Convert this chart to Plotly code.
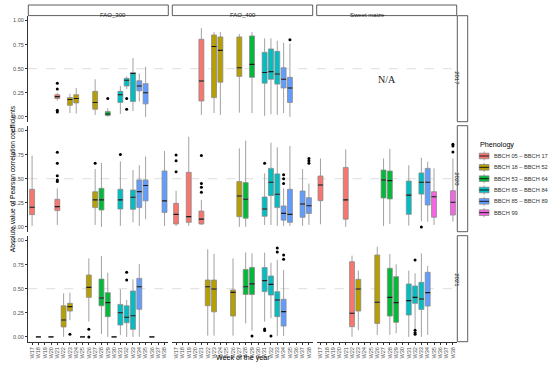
import plotly.graph_objects as go

# ---------------- data ----------------
WEEKS = [f"W{i}" for i in range(17, 39)]
PHASES = ["BBCH 05 – BBCH 17", "BBCH 18 – BBCH 52", "BBCH 53 – BBCH 64",
          "BBCH 65 – BBCH 84", "BBCH 85 – BBCH 89", "BBCH 99"]
COLORS = ["#F8766D", "#B79F00", "#00BA38", "#00BFC4", "#619CFF", "#F564E3"]
VARIETIES = ["FAO_300", "FAO_400", "Sweet maize"]
YEARS = ["2017", "2020", "2021"]

# FAO_300 / 2017
fao300_2017_weeks = ["W21", "W23", "W24", "W27", "W29", "W31", "W32", "W33", "W34", "W35"]
fao300_2017_phase = [0, 1, 1, 1, 2, 3, 3, 3, 4, 4]
fao300_2017_lo = [0.17, 0.04, 0.035, 0.02, 0.0, 0.03, 0.29, 0.06, 0.16, 0.0]
fao300_2017_q1 = [0.19, 0.12, 0.145, 0.08, 0.015, 0.15, 0.32, 0.16, 0.27, 0.135]
fao300_2017_med = [0.21, 0.18, 0.19, 0.15, 0.03, 0.23, 0.38, 0.45, 0.32, 0.25]
fao300_2017_q3 = [0.23, 0.20, 0.23, 0.265, 0.055, 0.265, 0.40, 0.46, 0.375, 0.345]
fao300_2017_hi = [0.25, 0.24, 0.30, 0.39, 0.09, 0.32, 0.42, 0.61, 0.45, 0.52]
fao300_2017_out = [("W21", 0.35), ("W21", 0.29), ("W21", 0.07), ("W21", 0.05),
                   ("W29", 0.19), ("W32", 0.19), ("W32", 0.08)]

# FAO_400 / 2017
fao400_2017_weeks = ["W21", "W23", "W24", "W27", "W29", "W31", "W32", "W33", "W34", "W35"]
fao400_2017_phase = [0, 1, 1, 1, 2, 3, 3, 3, 4, 4]
fao400_2017_lo = [0.02, 0.04, 0.02, 0.044, 0.04, 0.01, 0.027, 0.02, 0.04, 0.0]
fao400_2017_q1 = [0.165, 0.20, 0.36, 0.42, 0.41, 0.35, 0.39, 0.34, 0.30, 0.15]
fao400_2017_med = [0.373, 0.73, 0.69, 0.51, 0.545, 0.46, 0.47, 0.445, 0.39, 0.30]
fao400_2017_q3 = [0.805, 0.85, 0.83, 0.83, 0.84, 0.67, 0.705, 0.68, 0.51, 0.41]
fao400_2017_hi = [0.92, 0.88, 0.88, 0.86, 0.88, 0.815, 0.815, 0.79, 0.77, 0.76]
fao400_2017_out = [("W35", 0.80)]

# FAO_300 / 2020
fao300_2020_weeks = ["W17", "W21", "W27", "W28", "W31", "W33", "W34", "W35", "W38"]
fao300_2020_phase = [0, 0, 1, 2, 3, 3, 4, 4, 4]
fao300_2020_lo = [0.01, 0.02, 0.02, 0.0, 0.01, 0.047, 0.01, 0.08, 0.01]
fao300_2020_q1 = [0.127, 0.169, 0.20, 0.175, 0.185, 0.182, 0.20, 0.27, 0.15]
fao300_2020_med = [0.203, 0.21, 0.28, 0.28, 0.28, 0.307, 0.366, 0.43, 0.27]
fao300_2020_q3 = [0.39, 0.286, 0.365, 0.40, 0.39, 0.383, 0.487, 0.487, 0.58]
fao300_2020_hi = [0.74, 0.40, 0.60, 0.665, 0.68, 0.59, 0.64, 0.73, 0.787]
fao300_2020_out = [("W21", 0.774), ("W21", 0.66), ("W21", 0.53), ("W21", 0.487),
                   ("W21", 0.47), ("W27", 0.66), ("W31", 0.75)]

# FAO_400 / 2020
fao400_2020_weeks = ["W17", "W19", "W21", "W27", "W28", "W31", "W32", "W33", "W34", "W35", "W37", "W38"]
fao400_2020_phase = [0, 0, 0, 1, 2, 3, 3, 3, 4, 4, 4, 4]
fao400_2020_lo = [0.01, 0.01, 0.02, 0.0, 0.0, 0.02, 0.02, 0.01, 0.01, 0.01, 0.01, 0.02]
fao400_2020_q1 = [0.03, 0.047, 0.03, 0.106, 0.09, 0.11, 0.324, 0.2, 0.07, 0.047, 0.1, 0.14]
fao400_2020_med = [0.13, 0.106, 0.08, 0.32, 0.286, 0.186, 0.463, 0.338, 0.14, 0.13, 0.238, 0.22]
fao400_2020_q3 = [0.244, 0.566, 0.164, 0.47, 0.46, 0.31, 0.607, 0.55, 0.217, 0.39, 0.372, 0.303]
fao400_2020_hi = [0.375, 0.936, 0.28, 0.815, 0.895, 0.556, 0.874, 0.826, 0.40, 0.84, 0.60, 0.45]
fao400_2020_out = [("W17", 0.746), ("W17", 0.687), ("W17", 0.573),
                   ("W21", 0.74), ("W21", 0.45), ("W21", 0.41), ("W21", 0.36),
                   ("W31", 0.66), ("W34", 0.54), ("W34", 0.50), ("W34", 0.45),
                   ("W38", 0.71), ("W38", 0.687), ("W38", 0.66)]

# Sweet maize / 2020
sweet_2020_weeks = ["W17", "W21", "W27", "W28", "W31", "W33", "W34", "W35", "W38"]
sweet_2020_phase = [0, 0, 2, 2, 3, 3, 4, 5, 5]
sweet_2020_lo = [0.027, 0.0, 0.01, 0.03, 0.013, 0.06, 0.055, 0.02, 0.055]
sweet_2020_q1 = [0.272, 0.08, 0.30, 0.29, 0.13, 0.34, 0.227, 0.1, 0.123]
sweet_2020_med = [0.435, 0.28, 0.487, 0.48, 0.33, 0.463, 0.463, 0.313, 0.255]
sweet_2020_q3 = [0.528, 0.617, 0.59, 0.58, 0.476, 0.56, 0.607, 0.365, 0.376]
sweet_2020_hi = [0.71, 0.805, 0.71, 0.81, 0.64, 0.718, 0.676, 0.607, 0.71]
sweet_2020_out = [("W33", 0.0), ("W38", 0.857), ("W38", 0.84), ("W38", 0.777)]

# FAO_300 / 2021
fao300_2021_weeks = ["W18", "W20", "W22", "W23", "W25", "W26", "W28", "W29", "W30", "W31", "W32", "W33", "W34", "W36"]
fao300_2021_phase = [0, 0, 1, 1, 1, 1, 2, 2, 3, 3, 3, 3, 4, 4]
fao300_2021_lo = [0, 0, 0.0, 0.175, 0, 0.158, 0.03, 0.0, 0, 0.02, 0.0, 0.0, 0.0, 0]
fao300_2021_q1 = [0, 0, 0.103, 0.268, 0, 0.41, 0.323, 0.21, 0, 0.123, 0.147, 0.078, 0.286, 0]
fao300_2021_med = [0, 0, 0.175, 0.314, 0, 0.514, 0.404, 0.355, 0, 0.251, 0.203, 0.22, 0.52, 0]
fao300_2021_q3 = [0, 0, 0.323, 0.348, 0, 0.642, 0.60, 0.459, 0, 0.337, 0.323, 0.476, 0.607, 0]
fao300_2021_hi = [0, 0, 0.452, 0.459, 0, 0.815, 0.84, 0.666, 0, 0.494, 0.383, 0.597, 0.756, 0]
fao300_2021_out = [("W23", 0.027), ("W26", 0.078), ("W26", 0.0), ("W32", 0.67), ("W32", 0.59)]

# FAO_400 / 2021
fao400_2021_weeks = ["W22", "W23", "W26", "W28", "W29", "W31", "W32", "W33", "W34"]
fao400_2021_phase = [1, 1, 1, 2, 2, 3, 3, 3, 4]
fao400_2021_lo = [0.013, 0.013, 0.013, 0.14, 0.065, 0.158, 0.193, 0.01, 0.01]
fao400_2021_q1 = [0.323, 0.26, 0.217, 0.44, 0.44, 0.47, 0.434, 0.21, 0.112]
fao400_2021_med = [0.52, 0.497, 0.462, 0.52, 0.55, 0.584, 0.545, 0.383, 0.262]
fao400_2021_q3 = [0.59, 0.59, 0.487, 0.70, 0.72, 0.72, 0.632, 0.469, 0.39]
fao400_2021_hi = [0.908, 0.86, 0.815, 0.877, 0.867, 0.874, 0.77, 0.80, 0.694]
fao400_2021_out = [("W29", 0.01), ("W31", 0.082), ("W31", 0.065), ("W32", 0.01),
                   ("W33", 0.922), ("W33", 0.88), ("W34", 0.85), ("W34", 0.805)]

# Sweet maize / 2021
sweet_2021_weeks = ["W22", "W23", "W26", "W28", "W29", "W31", "W32", "W33", "W34"]
sweet_2021_phase = [0, 1, 1, 2, 2, 3, 3, 3, 4]
sweet_2021_lo = [0.0, 0.07, 0.02, 0.02, 0.037, 0.0, 0.078, 0.0, 0.02]
sweet_2021_q1 = [0.106, 0.268, 0.14, 0.216, 0.151, 0.227, 0.348, 0.285, 0.32]
sweet_2021_med = [0.245, 0.497, 0.359, 0.41, 0.355, 0.376, 0.41, 0.393, 0.459]
sweet_2021_q3 = [0.78, 0.597, 0.85, 0.712, 0.625, 0.549, 0.528, 0.566, 0.67]
sweet_2021_hi = [0.843, 0.687, 0.936, 0.86, 0.753, 0.687, 0.66, 0.867, 0.736]
sweet_2021_out = [("W32", 0.798), ("W32", 0.07), ("W32", 0.044), ("W32", 0.027)]

PANELS = {
    (0, 0): (fao300_2017_weeks, fao300_2017_phase, fao300_2017_lo, fao300_2017_q1, fao300_2017_med, fao300_2017_q3, fao300_2017_hi, fao300_2017_out),
    (0, 1): (fao400_2017_weeks, fao400_2017_phase, fao400_2017_lo, fao400_2017_q1, fao400_2017_med, fao400_2017_q3, fao400_2017_hi, fao400_2017_out),
    (1, 0): (fao300_2020_weeks, fao300_2020_phase, fao300_2020_lo, fao300_2020_q1, fao300_2020_med, fao300_2020_q3, fao300_2020_hi, fao300_2020_out),
    (1, 1): (fao400_2020_weeks, fao400_2020_phase, fao400_2020_lo, fao400_2020_q1, fao400_2020_med, fao400_2020_q3, fao400_2020_hi, fao400_2020_out),
    (1, 2): (sweet_2020_weeks, sweet_2020_phase, sweet_2020_lo, sweet_2020_q1, sweet_2020_med, sweet_2020_q3, sweet_2020_hi, sweet_2020_out),
    (2, 0): (fao300_2021_weeks, fao300_2021_phase, fao300_2021_lo, fao300_2021_q1, fao300_2021_med, fao300_2021_q3, fao300_2021_hi, fao300_2021_out),
    (2, 1): (fao400_2021_weeks, fao400_2021_phase, fao400_2021_lo, fao400_2021_q1, fao400_2021_med, fao400_2021_q3, fao400_2021_hi, fao400_2021_out),
    (2, 2): (sweet_2021_weeks, sweet_2021_phase, sweet_2021_lo, sweet_2021_q1, sweet_2021_med, sweet_2021_q3, sweet_2021_hi, sweet_2021_out),
}

# ---------------- layout geometry (pixels) ----------------
W, H = 550, 370
COL_PX = [(28.3, 168.3), (172.3, 312.7), (316.7, 456.7)]
ROW_PX = [(15.7, 121.7), (125.7, 231.7), (235.7, 341.7)]
BOX_W = 0.78
FONT = "Liberation Sans, Arial, sans-serif"


def px(x):
    return x / W


def py(y):
    return 1 - y / H


fig = go.Figure()
layout_axes = {}
shapes = []
annotations = []

for r in range(3):
    for c in range(3):
        n = r * 3 + c + 1
        xa = "x" if n == 1 else f"x{n}"
        ya = "y" if n == 1 else f"y{n}"
        layout_axes["xaxis" if n == 1 else f"xaxis{n}"] = dict(
            domain=[px(COL_PX[c][0]), px(COL_PX[c][1])], anchor=ya,
            range=[-0.6, len(WEEKS) - 0.4],
            tickmode="array", tickvals=list(range(len(WEEKS))), ticktext=WEEKS,
            tickangle=-90, showticklabels=(r == 2), showgrid=False, zeroline=False,
            showline=(r == 2), linecolor="#333333", linewidth=0.8,
            ticks="outside" if r == 2 else "", ticklen=2.2, tickwidth=0.6, tickcolor="#333333",
            tickfont=dict(family=FONT, size=5.6, color="#4d4d4d"),
        )
        layout_axes["yaxis" if n == 1 else f"yaxis{n}"] = dict(
            domain=[py(ROW_PX[r][1]), py(ROW_PX[r][0])], anchor=xa,
            range=[-0.05, 1.05],
            tickmode="array", tickvals=[0, 0.25, 0.5, 0.75, 1.0],
            ticktext=["0.00", "0.25", "0.50", "0.75", "1.00"],
            showticklabels=(c == 0), showgrid=False, zeroline=False,
            showline=(c == 0), linecolor="#333333", linewidth=0.8,
            ticks="outside" if c == 0 else "", ticklen=2.5, tickwidth=0.6, tickcolor="#333333",
            tickfont=dict(family=FONT, size=5.5, color="#4d4d4d"),
        )
        # dashed reference line at 0.5
        shapes.append(dict(type="line", xref=f"{xa} domain", yref=ya, x0=0, x1=1, y0=0.5, y1=0.5,
                           line=dict(color="#d0d0d0", width=0.7, dash="dash"), layer="below"))

        if (r, c) in PANELS:
            weeks, phase, lo, q1, med, q3, hi, outl = PANELS[(r, c)]
            for p in range(len(PHASES)):
                idx = [i for i in range(len(weeks)) if phase[i] == p]
                if not idx:
                    continue
                xs = [WEEKS.index(weeks[i]) for i in idx]
                fig.add_trace(go.Box(
                    x=xs, q1=[q1[i] for i in idx], median=[med[i] for i in idx],
                    q3=[q3[i] for i in idx], lowerfence=[lo[i] for i in idx],
                    upperfence=[hi[i] for i in idx],
                    width=BOX_W, whiskerwidth=0, fillcolor=COLORS[p],
                    line=dict(color="#8a8a8a", width=0.8),
                    xaxis=xa, yaxis=ya, showlegend=False, hoverinfo="skip",
                ))
            # medians
            mx, my = [], []
            for i in range(len(weeks)):
                xi = WEEKS.index(weeks[i])
                mx += [xi - BOX_W / 2, xi + BOX_W / 2, None]
                my += [med[i], med[i], None]
            fig.add_trace(go.Scatter(x=mx, y=my, mode="lines", line=dict(color="#1a1a1a", width=1.1),
                                     xaxis=xa, yaxis=ya, showlegend=False, hoverinfo="skip"))
            # outliers
            if outl:
                fig.add_trace(go.Scatter(
                    x=[WEEKS.index(w) for w, v in outl], y=[v for w, v in outl],
                    mode="markers", marker=dict(color="#000000", size=3),
                    xaxis=xa, yaxis=ya, showlegend=False, hoverinfo="skip"))

# N/A panel text
annotations.append(dict(text="N/A", xref="x3 domain", yref="y3", x=0.5, y=0.39, showarrow=False,
                        font=dict(family="Liberation Serif, Times New Roman, serif", size=10, color="#222222")))

# top strips
for c in range(3):
    x0, x1 = COL_PX[c]
    shapes.append(dict(type="rect", xref="paper", yref="paper", x0=px(x0), x1=px(x1),
                       y0=py(15.6), y1=py(5.0), fillcolor="white",
                       line=dict(color="#333333", width=0.8)))
    annotations.append(dict(text=VARIETIES[c], xref="paper", yref="paper",
                            x=px((x0 + x1) / 2), y=py(10.3), showarrow=False,
                            font=dict(family=FONT, size=6, color="#1a1a1a")))
# right strips
for r in range(3):
    y0, y1 = ROW_PX[r]
    shapes.append(dict(type="rect", xref="paper", yref="paper", x0=px(457.3), x1=px(467.7),
                       y0=py(y1), y1=py(y0), fillcolor="white",
                       line=dict(color="#333333", width=0.8)))
    annotations.append(dict(text=YEARS[r], xref="paper", yref="paper",
                            x=px(462.5), y=py((y0 + y1) / 2), showarrow=False, textangle=90,
                            font=dict(family=FONT, size=6, color="#1a1a1a")))

# axis titles
annotations.append(dict(text="Week of the year", xref="paper", yref="paper",
                        x=px(242.5), y=py(363.8), showarrow=False,
                        font=dict(family=FONT, size=7.1, color="#000000")))
annotations.append(dict(text="Absolute value of Pearson correlation coefficients", xref="paper", yref="paper",
                        x=px(7), y=py(178.7), showarrow=False, textangle=-90,
                        font=dict(family=FONT, size=6.7, color="#000000")))

# manual legend (ggplot style)
annotations.append(dict(text="Phenology", xref="paper", yref="paper", x=px(477.5), y=py(144),
                        xanchor="left", showarrow=False,
                        font=dict(family=FONT, size=7.2, color="#000000")))
for i, name in enumerate(PHASES):
    cy = 156 + i * 11.33
    kx0, kx1 = 479.3, 489.0
    kxc = (kx0 + kx1) / 2
    shapes.append(dict(type="line", xref="paper", yref="paper", x0=px(kxc), x1=px(kxc),
                       y0=py(cy - 4.6), y1=py(cy + 4.6), line=dict(color="#8a8a8a", width=0.8)))
    shapes.append(dict(type="rect", xref="paper", yref="paper", x0=px(kx0), x1=px(kx1),
                       y0=py(cy + 2.8), y1=py(cy - 2.8), fillcolor=COLORS[i],
                       line=dict(color="#8a8a8a", width=0.8)))
    shapes.append(dict(type="line", xref="paper", yref="paper", x0=px(kx0), x1=px(kx1),
                       y0=py(cy), y1=py(cy), line=dict(color="#1a1a1a", width=1.0)))
    annotations.append(dict(text=name, xref="paper", yref="paper", x=px(492.2), y=py(cy),
                            xanchor="left", showarrow=False,
                            font=dict(family=FONT, size=5.7, color="#333333")))

fig.update_layout(
    width=W, height=H, margin=dict(l=0, r=0, t=0, b=0),
    paper_bgcolor="white", plot_bgcolor="white",
    boxmode="overlay", showlegend=False,
    shapes=shapes, annotations=annotations,
    **layout_axes,
)

fig.write_html(
    "out.html",
    config={"displayModeBar": False},
    post_script="document.body.style.margin='0';document.body.style.padding='0';"
                "document.body.style.overflow='hidden';",
)
